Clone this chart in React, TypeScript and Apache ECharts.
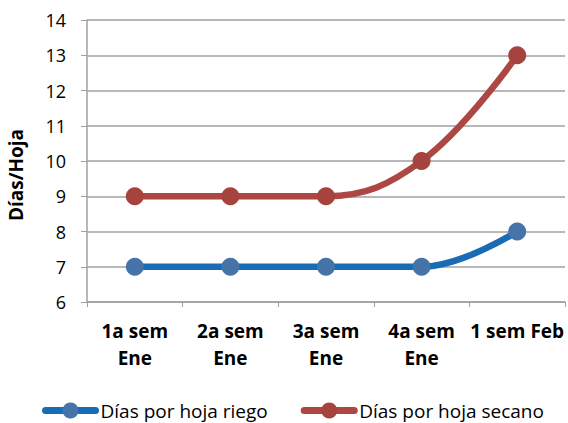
import React, { useEffect, useRef } from "react";
import * as echarts from "echarts";

const categories = ["1a sem\nEne", "2a sem\nEne", "3a sem\nEne", "4a sem\nEne", "1 sem Feb"];
const riego = [7, 7, 7, 7, 8];
const secano = [9, 9, 9, 10, 13];
const yTicks = { min: 6, max: 14, interval: 1 };
const yAxisTitle = "Días/Hoja";

const FONT = "'Open Sans', 'Liberation Sans', sans-serif";

export default function App() {
  const ref = useRef<HTMLDivElement>(null);
  useEffect(() => {
    const chart = echarts.init(ref.current!, null, { renderer: "svg" });
    chart.setOption({
      animation: false,
      textStyle: { fontFamily: FONT },
      grid: { left: 87, right: 3, top: 20, bottom: 121, containLabel: false },
      graphic: [
        {
          type: "text",
          x: 16,
          y: 175,
          rotation: Math.PI / 2,
          style: {
            text: yAxisTitle,
            fontSize: 19,
            fontWeight: "bold",
            fontFamily: FONT,
            fill: "#000",
            align: "center",
            verticalAlign: "middle",
          },
        },
      ],
      legend: {
        top: 396,
        left: 37,
        itemWidth: 50,
        itemHeight: 20,
        itemGap: 33,
        textStyle: { fontSize: 19, color: "#000", fontFamily: FONT },
        lineStyle: { width: 7, cap: "round" },
        data: ["Días por hoja riego", "Días por hoja secano"],
      },
      xAxis: {
        type: "category",
        data: categories,
        boundaryGap: true,
        axisLine: { lineStyle: { color: "#a0a0a0", width: 1.5 } },
        axisTick: { show: true, length: 5, lineStyle: { color: "#a0a0a0" } },
        axisLabel: { fontSize: 19, fontWeight: "bold", color: "#000", margin: 15, lineHeight: 27, interval: 0 },
      },
      yAxis: {
        type: "value",
        min: yTicks.min,
        max: yTicks.max,
        interval: yTicks.interval,
        axisLine: { show: true, lineStyle: { color: "#a0a0a0", width: 1.5 } },
        axisTick: { show: true, length: 6, lineStyle: { color: "#a0a0a0" } },
        axisLabel: { fontSize: 18, color: "#000", margin: 21 },
        splitLine: { lineStyle: { color: "#a0a0a0", width: 1.5 } },
      },
      series: [
        {
          name: "Días por hoja riego",
          type: "line",
          data: riego,
          smooth: 0.4,
          symbol: "circle",
          symbolSize: 18,
          lineStyle: { color: "#1a6bb5", width: 6.5 },
          itemStyle: { color: "#4673a8" },
        },
        {
          name: "Días por hoja secano",
          type: "line",
          data: secano,
          smooth: 0.4,
          symbol: "circle",
          symbolSize: 18,
          lineStyle: { color: "#ad4743", width: 6.5 },
          itemStyle: { color: "#a6433f" },
        },
      ],
    });
    return () => chart.dispose();
  }, []);
  return <div ref={ref} style={{ width: 568, height: 423, position: "absolute", left: 0, top: 0 }} />;
}
